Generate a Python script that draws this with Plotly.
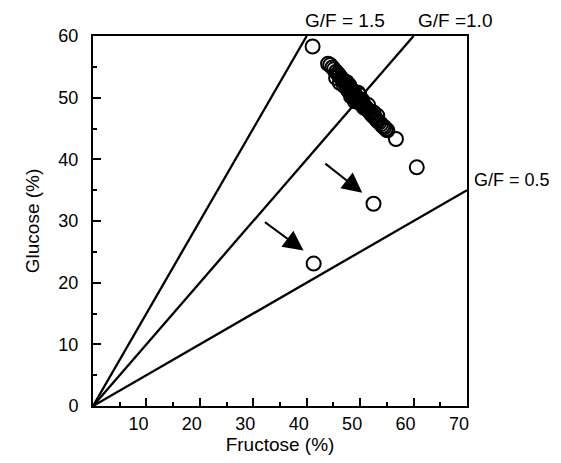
import plotly.graph_objects as go

# Data
fructose_cluster = [44.0, 44.4, 44.8, 45.1, 45.5, 45.8, 46.1, 46.4, 46.6, 46.9, 47.2, 47.4, 47.7, 47.9,
                    48.2, 48.4, 48.7, 48.9, 49.1, 49.4, 49.6, 49.9, 50.1, 50.3, 50.6, 50.8, 51.1,
                    51.3, 51.6, 51.9, 52.1, 52.4, 52.7, 53.0, 53.3, 53.6, 53.9, 54.2, 54.5, 54.8, 55.1,
                    47.0, 47.8, 48.6, 49.3, 50.0, 50.7, 48.3, 49.0, 45.5, 46.8,
                    47.5, 48.9, 49.8, 51.5, 52.5, 46.2, 50.4, 53.2, 48.0, 49.6]
glucose_cluster = [55.5, 55.3, 54.9, 54.6, 54.2, 53.9, 53.6, 53.2, 53.0, 52.7, 52.4, 52.1, 51.8, 51.6,
                   51.3, 51.1, 50.8, 50.6, 50.3, 50.1, 49.8, 49.6, 49.4, 49.1, 48.9, 48.6, 48.4,
                   48.1, 47.9, 47.6, 47.3, 47.1, 46.8, 46.5, 46.2, 46.0, 45.7, 45.4, 45.2, 44.9, 44.7,
                   51.9, 51.1, 50.3, 49.6, 49.1, 48.4, 50.2, 49.4, 53.2, 52.8,
                   52.5, 51.0, 50.5, 48.8, 47.6, 52.4, 49.6, 47.1, 52.0, 50.8]
fructose_single = [41.1, 56.7, 60.6, 52.5, 41.3]
glucose_single = [58.3, 43.3, 38.7, 32.8, 23.1]

ratios = [1.5, 1.0, 0.5]
ratio_labels = ["G/F = 1.5", "G/F =1.0", "G/F = 0.5"]

arrow_starts = [(43.2, 39.5), (31.9, 30.0)]
arrow_ends = [(50.4, 34.6), (39.4, 25.2)]

x_max, y_max = 70, 60

fig = go.Figure()

for r in ratios:
    xe = min(x_max, y_max / r)
    fig.add_trace(go.Scatter(x=[0, xe], y=[0, xe * r], mode="lines",
                             line=dict(color="black", width=2.3), showlegend=False,
                             cliponaxis=True, hoverinfo="skip"))

marker = dict(symbol="circle-open", size=14, color="black", line=dict(width=2, color="black"))
fig.add_trace(go.Scatter(x=fructose_cluster, y=glucose_cluster, mode="markers",
                         marker=marker, showlegend=False))
fig.add_trace(go.Scatter(x=fructose_single, y=glucose_single, mode="markers",
                         marker=marker, showlegend=False))

for (sx, sy), (ex, ey) in zip(arrow_starts, arrow_ends):
    fig.add_annotation(x=ex, y=ey, ax=sx, ay=sy, xref="x", yref="y", axref="x", ayref="y",
                       showarrow=True, arrowhead=2, arrowsize=2, arrowwidth=2,
                       arrowcolor="black", text="")

lab_font = dict(size=19, color="black")
fig.add_annotation(x=y_max / 1.5, y=y_max, xref="x", yref="y", text=ratio_labels[0],
                   showarrow=False, yanchor="bottom", xanchor="left", yshift=3, xshift=-4,
                   font=lab_font)
fig.add_annotation(x=y_max / 1.0, y=y_max, xref="x", yref="y", text=ratio_labels[1],
                   showarrow=False, yanchor="bottom", xanchor="left", yshift=3, xshift=2,
                   font=lab_font)
fig.add_annotation(x=x_max, y=x_max * 0.5, xref="x", yref="y", text=ratio_labels[2],
                   showarrow=False, xanchor="left", xshift=5, yshift=10,
                   font=dict(size=18, color="black"))

axis_common = dict(showline=True, linecolor="black", linewidth=2, mirror=True,
                   ticks="inside", ticklen=8, tickwidth=1.5, tickcolor="black",
                   showgrid=False, zeroline=False,
                   tickfont=dict(size=18, color="black"),
                   minor=dict(ticks="inside", ticklen=4, tickwidth=1.5, tickcolor="black", dtick=5))

fig.update_xaxes(range=[0, x_max], tickvals=[10, 20, 30, 40, 50, 60, 70],
                 ticklabelshift=-8,
                 title=dict(text="Fructose (%)", font=dict(size=19, color="black"), standoff=4),
                 **axis_common)
fig.update_yaxes(range=[0, y_max], tickvals=[0, 10, 20, 30, 40, 50, 60],
                 ticklabelstandoff=9,
                 title=dict(text="Glucose (%)", font=dict(size=19, color="black"), standoff=14),
                 **axis_common)

fig.update_layout(width=561, height=463, margin=dict(l=85, r=102, t=28, b=65),
                  plot_bgcolor="white", paper_bgcolor="white",
                  font=dict(family="Liberation Sans, Arial, sans-serif", color="black"))

fig.write_html("out.html")
